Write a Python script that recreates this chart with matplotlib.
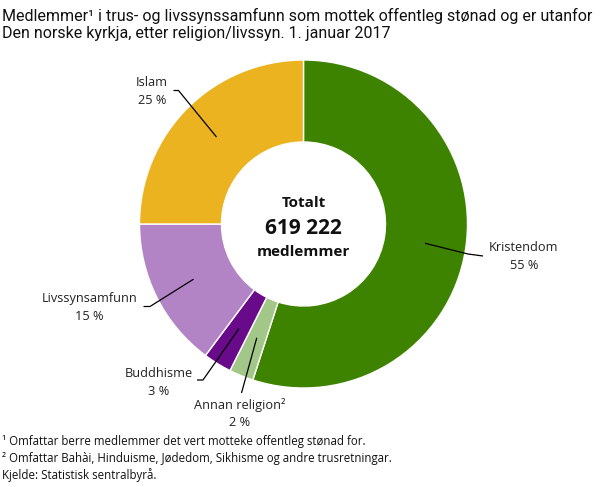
import numpy as np
import matplotlib
matplotlib.use("Agg")
import matplotlib.pyplot as plt

# ---- data ----
categories = ["Kristendom", "Annan religion\u00b2", "Buddhisme", "Livssynsamfunn", "Islam"]
shares = [55.0, 2.4, 2.8, 14.8, 25.0]
pct_labels = ["55 %", "2 %", "3 %", "15 %", "25 %"]
colors = ["#3d8300", "#a2c788", "#690a8a", "#b384c5", "#ebb320"]
title_lines = ["Medlemmer\u00b9 i trus- og livssynssamfunn som mottek offentleg st\u00f8nad og er utanfor",
               "Den norske kyrkja, etter religion/livssyn. 1. januar 2017"]
center_lines = ["Totalt", "619 222", "medlemmer"]
footnotes = ["\u00b9 Omfattar berre medlemmer det vert motteke offentleg st\u00f8nad for.",
             "\u00b2 Omfattar Bah\u00e0i, Hinduisme, J\u00f8dedom, Sikhisme og andre trusretningar.",
             "Kjelde: Statistisk sentralbyr\u00e5."]

W, H = 608, 487
fig = plt.figure(figsize=(W / 100, H / 100), dpi=100)
ax = fig.add_axes([0, 0, 1, 1])

def Y(y):
    return H - y

cx, cy = 303.5, 224.0
R = 164.0
ring = 0.5

wedges, _ = ax.pie(shares, colors=colors, startangle=90, counterclock=False,
                   center=(cx, Y(cy)), radius=R,
                   wedgeprops=dict(width=R * ring, edgecolor="white", linewidth=1.0))
ax.set_xlim(0, W)
ax.set_ylim(0, H)
ax.set_aspect("auto")
ax.axis("off")

FONT = "Open Sans"
lab_fs = 9.2

# label layout: (text center x, first line y, line end point, elbow point or None)
layout = {
    "Kristendom": ((524, 247.5), (483, 256), (468, 254)),
    "Annan religion\u00b2": ((240, 405), (241.5, 393), None),
    "Buddhisme": ((159, 373.5), (197, 380), (203, 380)),
    "Livssynsamfunn": ((89.5, 298.5), (143.5, 306.5), (150, 306.5)),
    "Islam": ((152, 82), (173.5, 90.5), (178.5, 90.5)),
}

for w, cat, pct in zip(wedges, categories, pct_labels):
    mid = np.deg2rad((w.theta1 + w.theta2) / 2)
    rr = R * 0.75
    px = cx + rr * np.cos(mid)
    py = Y(cy) + rr * np.sin(mid)
    (tx, ty), end, elbow = layout[cat]
    xs = [px]
    ys = [py]
    if elbow is not None:
        xs.append(elbow[0]); ys.append(Y(elbow[1]))
    xs.append(end[0]); ys.append(Y(end[1]))
    ax.plot(xs, ys, color="black", lw=0.9, solid_capstyle="butt")
    ax.text(tx, Y(ty), cat, ha="center", va="center", fontsize=lab_fs,
            family=FONT, color="#222222")
    ax.text(tx, Y(ty + 18), pct, ha="center", va="center", fontsize=lab_fs,
            family=FONT, color="#222222")

# center text
ax.text(cx, Y(203), center_lines[0], ha="center", va="center", fontsize=11,
        family=FONT, fontweight="bold", color="#111111")
ax.text(cx, Y(228.5), center_lines[1], ha="center", va="center", fontsize=15,
        family=FONT, fontweight="bold", color="#111111")
ax.text(cx, Y(252.5), center_lines[2], ha="center", va="center", fontsize=11,
        family=FONT, fontweight="bold", color="#111111")

# title
for i, line in enumerate(title_lines):
    ax.text(2, Y(15.5 + 18 * i), line, ha="left", va="center", fontsize=11.5,
            family=["Roboto", "DejaVu Sans"], color="#111111")

# footnotes
for i, line in enumerate(footnotes):
    ax.text(2, Y(442 + 16.3 * i), line, ha="left", va="center", fontsize=8.3,
            family=FONT, color="#111111")

fig.savefig("out.png", dpi=100)
